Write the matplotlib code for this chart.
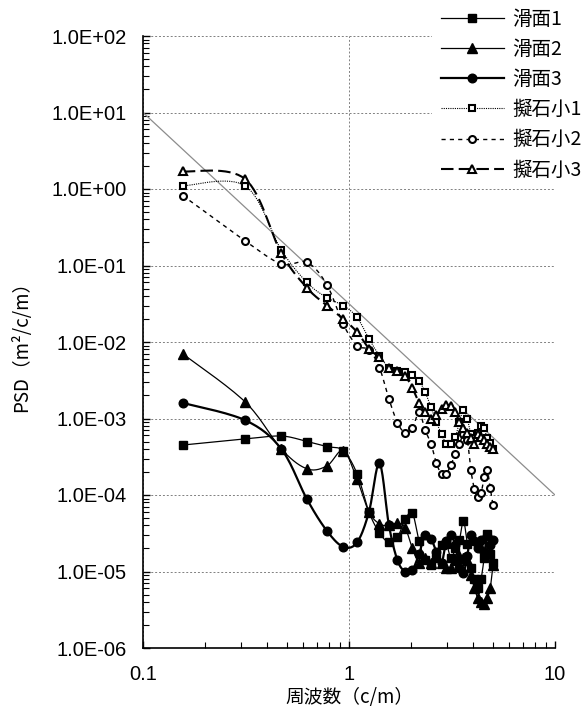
import numpy as np
import matplotlib
matplotlib.use("Agg")
from matplotlib import pyplot as plt
from matplotlib.lines import Line2D
from matplotlib.ticker import FuncFormatter, LogLocator

# 周波数 (c/m)
freq = [0.156, 0.313, 0.469, 0.625, 0.781, 0.938, 1.094, 1.25, 1.406, 1.563,
        1.719, 1.875, 2.031, 2.188, 2.344, 2.5, 2.656, 2.813, 2.969, 3.125,
        3.281, 3.438, 3.594, 3.75, 3.906, 4.063, 4.219, 4.375, 4.531, 4.688,
        4.844, 5.0]

kamen1 = [4.5e-4, 5.4e-4, 5.9e-4, 5.0e-4, 4.3e-4, 3.8e-4, 1.9e-4, 6.0e-5, 3.2e-5, 2.4e-5,
          2.8e-5, 4.8e-5, 5.8e-5, 2.5e-5, 1.4e-5, 1.2e-5, 1.5e-5, 2.2e-5, 2.3e-5, 1.5e-5,
          2.0e-5, 2.6e-5, 4.6e-5, 2.3e-5, 1.1e-5, 8.0e-6, 6.0e-6, 8.0e-6, 1.5e-5, 3.1e-5,
          1.7e-5, 1.3e-5]
kamen2 = [7.0e-3, 1.65e-3, 4.0e-4, 2.2e-4, 2.4e-4, 3.8e-4, 1.6e-4, 6.0e-5, 4.2e-5, 4.0e-5,
          4.3e-5, 3.7e-5, 2.0e-5, 1.3e-5, 1.5e-5, 1.3e-5, 1.6e-5, 1.3e-5, 1.1e-5, 1.1e-5,
          1.4e-5, 1.6e-5, 1.5e-5, 1.4e-5, 9.0e-6, 6.0e-6, 4.5e-6, 4.0e-6, 3.8e-6, 4.5e-6,
          6.0e-6, 1.2e-5]
kamen3 = [1.6e-3, 9.5e-4, 4.0e-4, 8.8e-5, 3.4e-5, 2.1e-5, 2.4e-5, 6.0e-5, 2.6e-4, 4.0e-5,
          1.4e-5, 1.0e-5, 1.05e-5, 1.7e-5, 3.0e-5, 2.7e-5, 1.8e-5, 1.3e-5, 2.5e-5, 3.0e-5,
          2.2e-5, 1.1e-5, 9.5e-6, 1.6e-5, 3.0e-5, 2.5e-5, 2.0e-5, 2.6e-5, 1.8e-5, 2.9e-5,
          2.2e-5, 2.6e-5]
giseki1 = [1.1, 1.1, 0.16, 0.06, 0.038, 0.030, 0.021, 0.011, 0.0066, 0.0046,
           0.0042, 0.0040, 0.0037, 0.0031, 0.0022, 0.0014, 9.0e-4, 6.2e-4, 4.7e-4, 4.7e-4,
           5.7e-4, 9.0e-4, 1.3e-3, 1.0e-3, 6.3e-4, 5.5e-4, 6.5e-4, 8.0e-4, 7.5e-4, 5.5e-4,
           4.8e-4, 4.0e-4]
giseki2 = [0.82, 0.21, 0.105, 0.11, 0.056, 0.017, 0.009, 0.0079, 0.0046, 0.0018,
           8.8e-4, 6.5e-4, 7.5e-4, 1.2e-3, 7.0e-4, 4.7e-4, 2.6e-4, 1.9e-4, 1.9e-4, 2.5e-4,
           3.4e-4, 4.7e-4, 6.2e-4, 5.3e-4, 2.1e-4, 1.2e-4, 9.5e-5, 1.05e-4, 1.7e-4, 2.1e-4,
           1.25e-4, 7.4e-5]
giseki3 = [1.7, 1.35, 0.145, 0.051, 0.030, 0.020, 0.0135, 0.0082, 0.0063, 0.0046,
           0.0042, 0.0036, 0.0025, 0.0016, 0.0012, 0.0010, 0.0011, 0.00135, 0.0015, 0.00145,
           0.0012, 9.0e-4, 7.5e-4, 6.5e-4, 5.6e-4, 4.6e-4, 6.3e-4, 5.8e-4, 5.3e-4, 4.7e-4,
           4.3e-4, 4.0e-4]

labels = ["滑面1", "滑面2", "滑面3", "擬石小1", "擬石小2", "擬石小3"]

# 参照線
ref_x = [0.1, 10]
ref_y = [10, 1e-4]


def smooth(x, y, n=16):
    # Excel風のスムージング(対数空間でのベジェ曲線)
    p = np.column_stack([np.log10(x), np.log10(y)])
    p = np.vstack([p[0], p, p[-1]])
    t = np.linspace(0, 1, n, endpoint=False)[:, None]
    out = []
    for i in range(1, len(p) - 2):
        p0, p1, p2, p3 = p[i - 1], p[i], p[i + 1], p[i + 2]
        c1 = p1 + (p2 - p0) / 6
        c2 = p2 - (p3 - p1) / 6
        out.append((1 - t) ** 3 * p1 + 3 * (1 - t) ** 2 * t * c1
                   + 3 * (1 - t) * t ** 2 * c2 + t ** 3 * p2)
    out.append(p[-2][None])
    out = np.vstack(out)
    return 10 ** out[:, 0], 10 ** out[:, 1]


if __name__ == "__main__":
    plt.rcParams['font.family'] = ['Liberation Sans', 'Noto Sans CJK JP']
    jp = ['Noto Sans CJK JP', 'Liberation Sans']

    fig = plt.figure(figsize=(5.87, 7.13), dpi=100)
    ax = fig.add_axes([143 / 587, 1 - 648 / 713, 412 / 587, 612 / 713])

    styles = [
        dict(ls='-', lw=0.9, marker='s', ms=5.5, mfc='black', mec='black'),
        dict(ls='-', lw=0.9, marker='^', ms=6.5, mfc='black', mec='black'),
        dict(ls='-', lw=1.6, marker='o', ms=6.2, mfc='black', mec='black'),
        dict(ls=(0, (1, 1)), lw=0.8, marker='s', ms=5, mfc='white', mec='black', mew=1.5),
        dict(ls=(0, (3, 3)), lw=1.0, marker='o', ms=5, mfc='white', mec='black', mew=1.5),
        dict(ls=(0, (6, 2.5)), lw=1.5, marker='^', ms=5.5, mfc='white', mec='black', mew=1.5),
    ]
    series = [kamen1, kamen2, kamen3, giseki1, giseki2, giseki3]

    ax.plot(ref_x, ref_y, color='#8c8c8c', lw=0.9, zorder=2)

    handles = []
    for vals, st in zip(series, styles):
        sx, sy = smooth(freq, vals)
        ax.plot(sx, sy, color='black', ls=st['ls'], lw=st['lw'], zorder=3)
        ax.plot(freq, vals, ls='none', marker=st['marker'], ms=st['ms'],
                mfc=st['mfc'], mec=st['mec'], mew=st.get('mew', 1.0), zorder=4)
        handles.append(Line2D([], [], color='black', ls=st['ls'], lw=st['lw'],
                              marker=st['marker'], ms=st['ms'], mfc=st['mfc'],
                              mec=st['mec'], mew=st.get('mew', 1.0)))

    ax.set_xscale('log')
    ax.set_yscale('log')
    ax.set_xlim(0.1, 10)
    ax.set_ylim(1e-6, 1e2)

    ax.yaxis.set_major_locator(LogLocator(base=10, numticks=20))
    ax.yaxis.set_minor_locator(LogLocator(base=10, subs=np.arange(2, 10), numticks=20))
    ax.yaxis.set_major_formatter(FuncFormatter(lambda v, p: f"{v:.1E}"))
    ax.xaxis.set_major_formatter(FuncFormatter(lambda v, p: f"{v:g}"))
    ax.xaxis.set_minor_formatter(FuncFormatter(lambda v, p: ""))

    ax.grid(True, which='major', color='#808080', ls=(0, (2, 2)), lw=0.7)
    ax.spines['top'].set_visible(False)
    ax.spines['right'].set_visible(False)
    ax.spines['left'].set_linewidth(1.2)
    ax.spines['bottom'].set_linewidth(1.2)
    ax.tick_params(which='major', direction='in', length=5, width=1, labelsize=14.5)
    ax.tick_params(axis='x', which='major', pad=12)
    ax.tick_params(axis='y', which='major', pad=12)
    ax.tick_params(which='minor', direction='in', length=4, width=0.8)
    ax.tick_params(axis='y', which='both', right=False)
    ax.tick_params(axis='x', which='both', top=False)

    ax.set_xlabel('周波数（c/m）', family=jp, fontsize=13.5, va='center')
    ax.xaxis.set_label_coords(0.5, -49 / 612)
    ax.set_ylabel('PSD（m²/c/m）', family=jp, fontsize=13.5, va='center')
    ax.yaxis.set_label_coords(-121 / 412, 0.5)

    leg = fig.legend(handles, labels, loc='upper left', bbox_to_anchor=(432 / 587, 1.0),
                     prop={'family': jp, 'size': 14}, handlelength=3.25,
                     handletextpad=0.45, labelspacing=0.47, borderpad=0.45,
                     borderaxespad=0.0, frameon=True, fancybox=False)
    leg.get_frame().set_facecolor('white')
    leg.get_frame().set_edgecolor('none')
    leg.get_frame().set_alpha(1.0)

    plt.savefig('out.png', dpi=100)
